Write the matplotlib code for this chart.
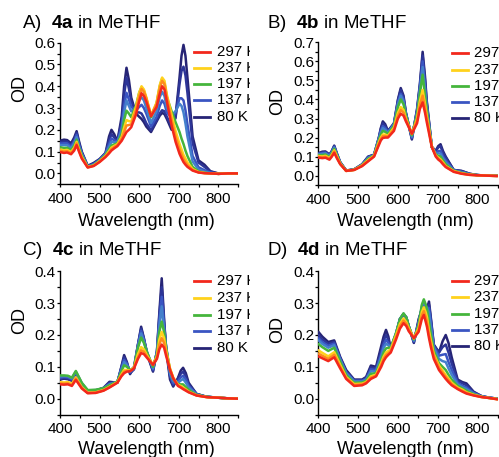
import matplotlib
matplotlib.use("Agg")
import matplotlib.pyplot as plt
from matplotlib.lines import Line2D
from matplotlib.transforms import Bbox
from matplotlib.ticker import MultipleLocator, FormatStrFormatter

# ---------------- data: absorbance (OD) vs wavelength (nm) ----------------
TEMPS = [297, 267, 237, 197, 157, 137, 110, 80]
LEGEND_TEMPS = [297, 237, 197, 137, 80]

# 4a in MeTHF
WL_A = [400, 410, 418, 428, 436, 442, 448, 455, 470, 485, 500, 515, 524, 530, 537, 545, 556, 562, 568, 574,
        580, 592, 600, 606, 612, 618, 630, 644, 652, 658, 664, 670, 682, 692, 702, 707, 712, 717, 722,
        735, 750, 765, 780, 800, 825, 850]
A_297 = [.098, .094, .096, .088, .105, .130, .100, .068, .027, .034, .052, .075, .092, .105, .115, .125, .150, .170, .190, .200,
         .212, .270, .330, .368, .355, .330, .262, .305, .365, .400, .385, .330, .220, .145, .090, .070, .052, .040, .030,
         .013, .004, .001, .000, -.002, .000, .000]
A_267 = [.104, .100, .102, .093, .112, .138, .105, .072, .028, .035, .054, .078, .097, .112, .121, .130, .160, .190, .220, .222,
         .225, .290, .355, .388, .375, .345, .266, .318, .390, .425, .410, .350, .245, .170, .110, .088, .066, .052, .038,
         .016, .005, .001, .000, -.002, .000, .000]
A_237 = [.110, .106, .108, .098, .118, .145, .110, .076, .029, .036, .056, .080, .102, .118, .126, .134, .168, .210, .245, .240,
         .238, .305, .370, .400, .385, .350, .266, .325, .405, .440, .425, .362, .268, .195, .135, .110, .085, .068, .050,
         .020, .006, .002, .000, -.002, .000, .000]
A_197 = [.120, .117, .118, .107, .128, .155, .118, .082, .030, .038, .058, .084, .110, .128, .133, .138, .182, .245, .288, .275,
         .258, .312, .370, .395, .380, .342, .258, .322, .400, .435, .415, .350, .285, .235, .190, .160, .135, .105, .080,
         .030, .009, .003, .000, -.002, .000, .000]
A_157 = [.130, .130, .130, .116, .138, .167, .126, .088, .031, .040, .060, .088, .122, .145, .143, .142, .200, .280, .335, .310,
         .285, .300, .335, .350, .335, .300, .232, .285, .350, .375, .355, .300, .268, .285, .320, .310, .280, .230, .170,
         .055, .018, .008, .002, -.002, .000, .000]
A_137 = [.137, .138, .138, .123, .147, .177, .132, .092, .032, .042, .062, .090, .135, .160, .152, .145, .215, .310, .370, .340,
         .305, .290, .305, .315, .300, .275, .215, .260, .310, .335, .320, .280, .255, .280, .345, .345, .335, .290, .225,
         .080, .028, .015, .004, -.002, .000, .000]
A_110 = [.144, .146, .146, .130, .156, .186, .140, .096, .033, .045, .064, .092, .152, .180, .165, .147, .240, .360, .440, .390,
         .330, .280, .280, .275, .255, .230, .198, .245, .275, .290, .285, .260, .215, .255, .410, .470, .490, .450, .370,
         .140, .050, .030, .008, -.001, .000, .000]
A_80 = [.150, .155, .153, .138, .165, .194, .148, .100, .035, .048, .066, .094, .170, .200, .180, .148, .262, .400, .485, .430,
        .348, .275, .260, .250, .235, .215, .190, .238, .265, .278, .272, .250, .200, .262, .440, .540, .590, .540, .440,
        .170, .060, .040, .010, .000, .000, .000]

# 4b in MeTHF
WL_B = [400, 410, 418, 428, 434, 440, 447, 455, 470, 490, 510, 525, 540, 552, 557, 562, 568, 575, 590, 600, 607,
        614, 620, 635, 648, 655, 662, 668, 672, 685, 695, 701, 707, 713, 720, 740, 760, 780, 800, 825, 850]
B_297 = [.095, .092, .094, .084, .100, .120, .090, .060, .025, .030, .050, .075, .100, .160, .185, .198, .200, .200, .235, .300, .325,
         .315, .285, .220, .275, .350, .385, .330, .285, .150, .100, .085, .075, .060, .045, .020, .010, .004, .002, .000, -.002]
B_267 = [.099, .097, .099, .088, .105, .127, .095, .062, .025, .030, .052, .078, .102, .168, .192, .207, .208, .205, .245, .315, .345,
         .330, .295, .220, .290, .370, .420, .355, .305, .155, .105, .090, .080, .065, .048, .022, .011, .005, .002, .000, -.002]
B_237 = [.103, .101, .104, .092, .110, .133, .100, .064, .025, .031, .054, .082, .104, .175, .200, .216, .215, .210, .252, .330, .360,
         .345, .300, .218, .300, .390, .450, .375, .320, .155, .105, .095, .085, .070, .050, .024, .012, .005, .002, .000, -.001]
B_197 = [.108, .108, .111, .098, .117, .141, .105, .066, .026, .031, .055, .088, .106, .185, .215, .235, .230, .218, .262, .360, .400,
         .375, .315, .212, .320, .430, .530, .420, .350, .150, .110, .105, .100, .080, .060, .026, .015, .006, .003, .000, -.001]
B_157 = [.112, .114, .117, .103, .122, .147, .108, .068, .026, .032, .057, .092, .108, .192, .228, .250, .240, .225, .268, .375, .420,
         .390, .320, .205, .330, .450, .570, .450, .365, .150, .115, .118, .115, .090, .070, .027, .018, .008, .003, .000, -.001]
B_137 = [.114, .118, .120, .106, .125, .151, .110, .069, .026, .032, .058, .095, .109, .195, .235, .260, .250, .228, .270, .385, .430,
         .400, .325, .200, .338, .460, .600, .470, .375, .150, .120, .128, .130, .100, .080, .028, .020, .008, .003, .000, .000]
B_110 = [.116, .122, .124, .109, .128, .155, .113, .070, .027, .033, .059, .098, .110, .198, .245, .275, .260, .232, .272, .395, .450,
         .410, .330, .195, .345, .470, .630, .500, .390, .152, .128, .148, .155, .120, .095, .030, .024, .010, .003, .000, .000]
B_80 = [.118, .126, .127, .111, .130, .158, .115, .071, .027, .033, .060, .100, .110, .200, .250, .285, .270, .235, .275, .400, .460,
        .420, .330, .190, .350, .480, .650, .520, .400, .150, .130, .155, .165, .130, .100, .030, .025, .010, .003, .000, .000]

# 4c in MeTHF
WL_C = [400, 410, 420, 430, 440, 455, 470, 490, 510, 525, 545, 555, 562, 569, 577, 587, 597, 605, 612, 620,
        635, 645, 651, 657, 663, 668, 678, 686, 698, 705, 711, 718, 725, 745, 770, 800, 825, 850]
C_297 = [.045, .044, .045, .040, .059, .032, .017, .018, .025, .035, .050, .070, .080, .085, .086, .095, .125, .143, .140, .128,
         .106, .125, .155, .170, .160, .135, .090, .064, .040, .035, .030, .025, .020, .010, .005, .003, .001, .000]
C_267 = [.048, .047, .048, .043, .063, .034, .018, .019, .026, .036, .051, .073, .085, .087, .087, .097, .130, .152, .147, .132,
         .106, .130, .170, .190, .175, .145, .093, .066, .042, .037, .032, .027, .021, .010, .005, .003, .001, .000]
C_237 = [.052, .051, .052, .047, .067, .036, .019, .020, .027, .037, .052, .076, .090, .090, .088, .098, .140, .162, .155, .136,
         .106, .134, .185, .210, .190, .152, .095, .066, .044, .040, .035, .029, .022, .011, .005, .003, .001, .000]
C_197 = [.073, .073, .072, .066, .087, .050, .027, .028, .033, .042, .054, .085, .105, .100, .090, .098, .160, .192, .175, .145,
         .100, .140, .210, .242, .210, .160, .090, .062, .046, .045, .045, .036, .028, .012, .006, .003, .001, .000]
C_157 = [.070, .071, .070, .064, .085, .049, .026, .027, .033, .045, .053, .090, .115, .105, .086, .096, .165, .205, .180, .146,
         .095, .145, .230, .290, .215, .165, .080, .055, .050, .057, .062, .050, .035, .013, .006, .003, .001, .000]
C_137 = [.066, .068, .067, .061, .083, .047, .025, .026, .033, .047, .052, .095, .122, .110, .083, .094, .168, .213, .185, .145,
         .092, .147, .245, .320, .230, .165, .075, .048, .055, .067, .072, .060, .040, .014, .006, .003, .001, .000]
C_110 = [.062, .065, .063, .058, .081, .045, .024, .025, .034, .050, .051, .098, .130, .112, .080, .092, .170, .220, .188, .143,
         .088, .148, .260, .350, .240, .160, .070, .042, .062, .078, .085, .070, .045, .015, .006, .003, .001, .000]
C_80 = [.060, .063, .061, .056, .080, .044, .023, .025, .034, .053, .050, .100, .137, .115, .077, .100, .170, .226, .190, .140,
        .085, .150, .270, .378, .250, .155, .060, .038, .065, .088, .097, .080, .050, .015, .006, .003, .001, .000]

# 4d in MeTHF
WL_D = [400, 410, 425, 440, 455, 470, 490, 510, 520, 532, 545, 558, 564, 570, 576, 582, 595, 605, 614, 621, 627,
        640, 652, 660, 665, 670, 673, 678, 683, 690, 703, 712, 720, 727, 735, 750, 762, 772, 790, 810, 830, 850]
D_297 = [.133, .127, .118, .130, .095, .062, .040, .042, .048, .062, .070, .100, .118, .130, .138, .145, .185, .220, .237, .228, .212,
         .190, .210, .250, .263, .240, .225, .190, .160, .125, .090, .075, .062, .052, .042, .030, .022, .016, .010, .005, .002, -.002]
D_267 = [.142, .135, .125, .138, .100, .065, .043, .045, .050, .066, .072, .106, .125, .137, .143, .150, .192, .228, .245, .235, .218,
         .190, .216, .262, .275, .255, .240, .200, .170, .135, .098, .082, .068, .058, .046, .032, .025, .018, .011, .005, .002, -.002]
D_237 = [.152, .144, .133, .146, .106, .068, .046, .047, .052, .070, .075, .112, .132, .145, .150, .155, .198, .235, .252, .240, .222,
         .189, .222, .272, .287, .270, .255, .212, .180, .140, .104, .088, .074, .063, .050, .035, .028, .020, .012, .006, .002, -.001]
D_197 = [.172, .162, .150, .160, .116, .074, .050, .051, .056, .078, .080, .122, .145, .158, .160, .160, .205, .250, .268, .255, .228,
         .186, .232, .295, .312, .295, .280, .240, .200, .150, .112, .100, .090, .075, .060, .040, .032, .025, .014, .006, .002, -.001]
D_157 = [.184, .172, .160, .168, .122, .080, .054, .054, .059, .086, .085, .132, .160, .172, .168, .160, .205, .250, .267, .255, .228,
         .182, .236, .290, .305, .290, .285, .270, .220, .160, .125, .118, .115, .095, .075, .045, .036, .030, .016, .007, .003, .000]
D_137 = [.190, .178, .166, .173, .125, .083, .056, .056, .062, .092, .090, .140, .170, .185, .175, .158, .204, .250, .266, .255, .228,
         .180, .240, .285, .300, .285, .285, .285, .235, .165, .135, .138, .140, .115, .090, .050, .040, .035, .018, .007, .003, .000]
D_110 = [.200, .186, .172, .178, .128, .086, .058, .058, .065, .098, .095, .152, .182, .200, .185, .156, .202, .250, .265, .255, .228,
         .177, .245, .282, .295, .280, .285, .295, .245, .168, .145, .162, .170, .145, .110, .056, .048, .042, .020, .008, .003, .000]
D_80 = [.210, .195, .178, .183, .131, .090, .060, .060, .068, .104, .100, .165, .195, .216, .195, .155, .200, .250, .265, .255, .228,
        .175, .250, .280, .292, .280, .285, .305, .250, .170, .145, .180, .200, .175, .130, .060, .052, .048, .022, .008, .003, .000]

X_TICKS = [400, 500, 600, 700, 800]

# ---------------- styling ----------------
COLORS = {297: "#F2281C", 267: "#FF8A1C", 237: "#FFD21C", 197: "#45B53C",
          157: "#4480CC", 137: "#3A55C2", 110: "#2D3597", 80: "#262475"}

plt.rcParams["font.family"] = ["Liberation Sans", "DejaVu Sans"]
plt.rcParams["mathtext.fontset"] = "custom"
plt.rcParams["mathtext.rm"] = "Liberation Sans"
plt.rcParams["mathtext.bf"] = "Liberation Sans:bold"

W, H = 499, 457
fig = plt.figure(figsize=(W / 100, H / 100), dpi=100)


def fx(px):
    return px / W


def fy(py):
    return 1 - py / H


panels = [
    dict(tag="A)", cmpd="4a", wl=WL_A, ys=[A_297, A_267, A_237, A_197, A_157, A_137, A_110, A_80],
         box=(60, 42.7, 238.1, 184.3), ylim=(-0.05, 0.6), title=(22, 28.3),
         leg=(194, 210, 216.7, 51.7, 16.25), clip=250, xlab_top=213.3, ylab_y=88),
    dict(tag="B)", cmpd="4b", wl=WL_B, ys=[B_297, B_267, B_237, B_197, B_157, B_137, B_110, B_80],
         box=(318.3, 42.3, 497.5, 185.2), ylim=(-0.05, 0.7), title=(266.7, 28.3),
         leg=(452.3, 468.3, 474, 53.3, 16.25), clip=W, xlab_top=213.3, ylab_y=101.7),
    dict(tag="C)", cmpd="4c", wl=WL_C, ys=[C_297, C_267, C_237, C_197, C_157, C_137, C_110, C_80],
         box=(60, 271.3, 238.1, 414.6), ylim=(-0.05, 0.4), title=(21.7, 255.3),
         leg=(194, 210, 216.7, 281.3, 16.7), clip=250, xlab_top=441.3, ylab_y=320.5),
    dict(tag="D)", cmpd="4d", wl=WL_D, ys=[D_297, D_267, D_237, D_197, D_157, D_137, D_110, D_80],
         box=(318.3, 271.3, 497.5, 414.6), ylim=(-0.05, 0.4), title=(266.7, 255.3),
         leg=(452.3, 468.3, 474, 280.7, 16.4), clip=W, xlab_top=441.3, ylab_y=329.7),
]

for p in panels:
    l, t, r, b = p["box"]
    ax = fig.add_axes([fx(l), fy(b), fx(r - l), (b - t) / H])
    # coldest first so the room-temperature trace sits on top
    for T, y in reversed(list(zip(TEMPS, p["ys"]))):
        ax.plot(p["wl"], y, color=COLORS[T], lw=1.8, solid_joinstyle="round",
                solid_capstyle="round", zorder=3)
    ax.set_xlim(400, 850)
    ax.set_ylim(*p["ylim"])
    ax.set_xticks(X_TICKS)
    ax.xaxis.set_minor_locator(MultipleLocator(50))
    ax.yaxis.set_major_locator(MultipleLocator(0.1))
    ax.yaxis.set_minor_locator(MultipleLocator(0.05))
    ax.yaxis.set_major_formatter(FormatStrFormatter("%.1f"))
    for s in ("top", "right"):
        ax.spines[s].set_visible(False)
    for s in ("left", "bottom"):
        ax.spines[s].set_linewidth(1.0)
    ax.tick_params(which="both", direction="out", length=2.4, width=0.9, labelsize=11)
    ax.tick_params(axis="y", which="both", pad=0.6)
    ax.tick_params(axis="x", which="both", pad=3.0)
    ax.set_xlabel("Wavelength (nm)", fontsize=13)
    ax.set_ylabel("OD", fontsize=13)
    ax.xaxis.set_label_coords(((l + r) / 2 - 3 - l) / (r - l), (b - p["xlab_top"]) / (b - t))
    ax.xaxis.label.set_va("top")
    ax.yaxis.label.set_va("center")
    ax.yaxis.set_label_coords(-40.5 / (r - l), (b - p["ylab_y"]) / (b - t))

    tx, tyb = p["title"]
    fig.text(fx(tx), fy(tyb), p["tag"] + "  $\\mathbf{" + p["cmpd"] + "}$ in MeTHF",
             fontsize=13.5, va="baseline", ha="left")

    # legend: a short coloured bar and the temperature for selected traces
    x0, x1, xt, y0, dy = p["leg"]
    for i, T in enumerate(LEGEND_TEMPS):
        yy = y0 + i * dy
        fig.add_artist(Line2D([fx(x0), fx(x1)], [fy(yy), fy(yy)], transform=fig.transFigure,
                              color=COLORS[T], lw=2.0))
        txt = fig.text(fx(xt), fy(yy), f"{T} K", fontsize=10.8, va="center", ha="left")
        txt.set_clip_box(Bbox.from_extents(0, 0, p["clip"], H))
        txt.set_clip_on(True)

fig.savefig("out.png", dpi=100)
